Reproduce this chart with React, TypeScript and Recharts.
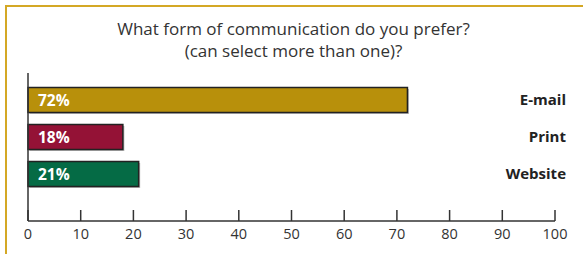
import React from 'react';
import { BarChart, Bar, XAxis, YAxis, LabelList } from 'recharts';

const categories = ['E-mail', 'Print', 'Website'];
const percents = [72, 18, 21];
const barColors = ['#b8900b', '#941236', '#056b45'];
const xTicks = [0, 10, 20, 30, 40, 50, 60, 70, 80, 90, 100];

const data = categories.map((name, i) => ({ name, value: percents[i], color: barColors[i] }));

const FONT = '"Open Sans", "DejaVu Sans", sans-serif';

const BarShape = (props: any) => {
  const { x, y, width, height, payload } = props;
  return (
    <g>
      <rect x={x + 1.5} y={y + 1.5} width={width} height={height} fill="#bbb" />
      <rect x={x} y={y} width={width} height={height} fill={payload.color} stroke="#222" strokeWidth={1.5} />
    </g>
  );
};

const XTick = (props: any) => {
  const { x, y, payload } = props;
  return (
    <g>
      <line x1={x} x2={x} y1={y - 11} y2={y} stroke="#333" strokeWidth={1.5} />
      <text x={x} y={y + 18} textAnchor="middle" fill="#333" fontSize={14.5} fontFamily={FONT}>
        {payload.value}
      </text>
    </g>
  );
};

const RightTick = (props: any) => {
  const { x, y, payload } = props;
  return (
    <text x={x + 11} y={y} dy={5} textAnchor="end" fill="#222" fontSize={15} fontWeight={700} fontFamily={FONT}>
      {payload.value}
    </text>
  );
};

export default function App() {
  return (
    <div style={{ position: 'absolute', left: 0, top: 0, width: 583, height: 254, overflow: 'hidden', background: '#fff' }}>
      <div
        style={{
          position: 'absolute',
          left: 5,
          top: 5,
          width: 700,
          height: 400,
          borderLeft: '2px solid #d4a825',
          borderTop: '2px solid #d4a825',
        }}
      />
      <div
        style={{
          position: 'absolute',
          left: 2,
          top: 18,
          width: 583,
          textAlign: 'center',
          fontFamily: FONT,
          fontSize: 17,
          lineHeight: '22px',
          color: '#333',
        }}
      >
        What form of communication do you prefer?
        <br />
        (can select more than one)?
      </div>
      <div style={{ position: 'absolute', left: 0, top: 0 }}>
        <BarChart
          width={583}
          height={254}
          data={data}
          layout="vertical"
          margin={{ top: 73, right: 18, left: 18, bottom: 0 }}
          barSize={25}
        >
          <XAxis
            type="number"
            domain={[0, 100]}
            ticks={xTicks}
            interval={0}
            height={33}
            tickSize={0}
            tickMargin={0}
            tickLine={false}
            tick={<XTick />}
            axisLine={{ stroke: '#333', strokeWidth: 1.5 }}
          />
          <YAxis
            yAxisId="left"
            type="category"
            dataKey="name"
            width={10}
            tickSize={0}
            tickLine={false}
            tick={() => <g />}
            padding={{ top: 8.5, bottom: 28.5 }}
            axisLine={{ stroke: '#333', strokeWidth: 1.5 }}
          />
          <YAxis
            yAxisId="right"
            orientation="right"
            type="category"
            dataKey="name"
            width={10}
            tickSize={0}
            tickMargin={0}
            tickLine={false}
            axisLine={false}
            padding={{ top: 8.5, bottom: 28.5 }}
            tick={<RightTick />}
          />
          <Bar dataKey="value" yAxisId="left" shape={<BarShape />} isAnimationActive={false}>
            <LabelList
              dataKey="value"
              position="insideLeft"
              offset={10}
              formatter={(v: any) => `${v}%`}
              fill="#fff"
              fontSize={15.5}
              fontWeight={700}
              fontFamily={FONT}
            />
          </Bar>
        </BarChart>
      </div>
    </div>
  );
}
